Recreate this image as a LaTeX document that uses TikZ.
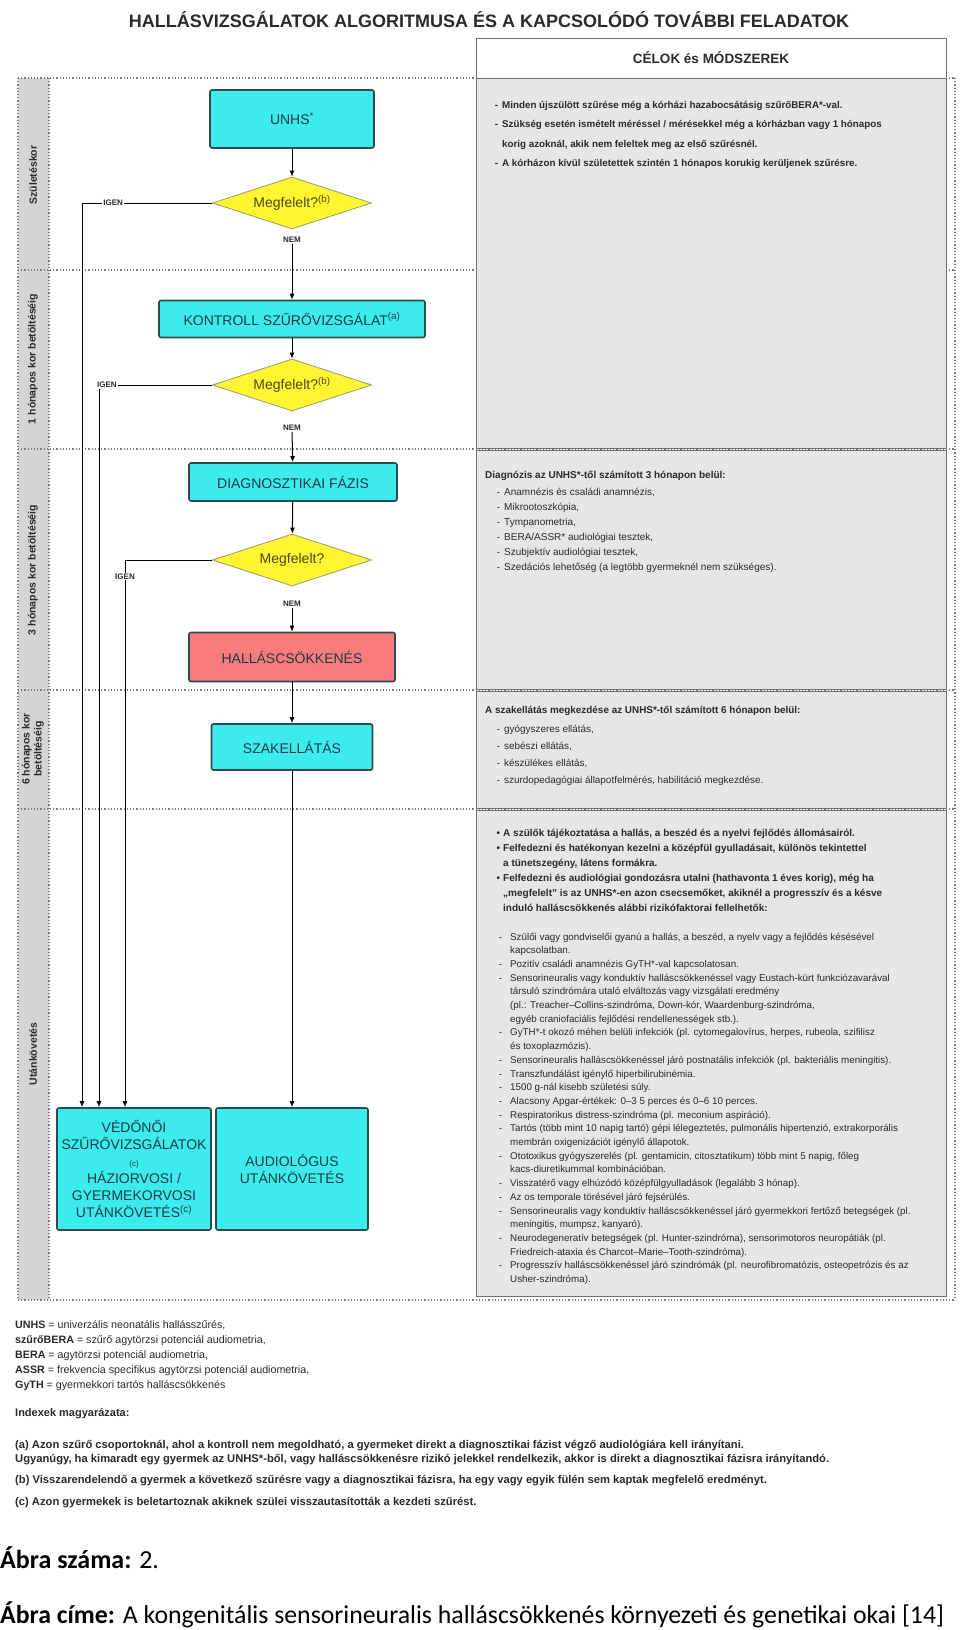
\documentclass[tikz,border=0pt]{standalone}
\usepackage{fontspec}
\setmainfont{Liberation Sans}
\newfontfamily\capfont{Carlito}
\usetikzlibrary{arrows.meta,shapes.geometric}

\definecolor{boxcyan}{HTML}{3CECEC}
\definecolor{boxedge}{HTML}{2F4A4A}
\definecolor{boxtext}{HTML}{1F3A4A}
\definecolor{qyellow}{HTML}{FFF533}
\definecolor{qedge}{HTML}{9A9A70}
\definecolor{qtext}{HTML}{4A4A18}
\definecolor{hcsred}{HTML}{F87C7C}
\definecolor{panelgray}{HTML}{E6E6E6}
\definecolor{panelline}{HTML}{707070}
\definecolor{stripgray}{HTML}{D4D4D4}
\definecolor{dotgray}{HTML}{7A7A7A}
\definecolor{bodytext}{HTML}{2A2A2A}

% hanging list marks
\newcommand{\dsh}[1][4pt]{\llap{-\hspace{#1}}}
\newcommand{\blt}{\llap{\textbullet\hspace{3pt}}}

\tikzset{
  flowbox/.style={draw=boxedge, line width=1.6pt, rounded corners=2pt, fill=boxcyan,
    text=boxtext, align=center, inner sep=0pt, font=\fontsize{14}{17}\selectfont},
  question/.style={diamond, draw=qedge, line width=0.8pt, fill=qyellow, text=qtext,
    inner sep=0pt, aspect=3, minimum width=159, minimum height=52,
    font=\fontsize{14}{17}\selectfont},
  yesno/.style={inner sep=1pt, fill=white, text=bodytext, font=\bfseries\fontsize{8}{9}\selectfont},
  flow/.style={draw=black, line width=1pt, -{Latex[length=6pt,width=5pt]}},
  sectiondots/.style={draw=dotgray, line width=1.2pt, dotted},
  panel/.style={draw=panelline, line width=1pt, fill=panelgray},
  agelabel/.style={rotate=90, align=center, text=bodytext, font=\bfseries\fontsize{10.5}{12}\selectfont},
  % anchored on the baseline of the LAST line
  paneltext/.style={anchor=base west, align=left, inner sep=0pt, text=bodytext},
}

\begin{document}
\begin{tikzpicture}[x=1pt,y=-1pt]
\useasboundingbox (0,0) rectangle (960,1630);
\fill[white] (0,0) rectangle (960,1630);

% Title
\node[font=\bfseries\fontsize{18}{20}\selectfont, text=bodytext] (title) at (489,20)
  {HALLÁSVIZSGÁLATOK ALGORITMUSA ÉS A KAPCSOLÓDÓ TOVÁBBI FELADATOK};

% Age strip and section guide lines
\fill[stripgray] (18,78) rectangle (49,1300);
\foreach \y in {78,270,449,690,809,1300}{
    \draw[sectiondots] (18,\y) -- (955,\y);
}
\draw[sectiondots] (18,78) -- (18,1300);
\draw[sectiondots] (49,78) -- (49,1300);
\draw[sectiondots] (955,78) -- (955,1300);

\node[agelabel] (age0) at (33,175) {Születéskor};
\node[agelabel] (age1) at (33,359) {1 hónapos kor betöltéséig};
\node[agelabel] (age3) at (33,570) {3 hónapos kor betöltéséig};
\node[agelabel] (age6) at (33,749) {6 hónapos kor\\betöltéséig};
\node[agelabel] (agefu) at (33,1054) {Utánkövetés};

% Right column panels
\draw[line width=1pt, draw=panelline, fill=white] (476,38) rectangle (946,78);
\node[font=\bfseries\fontsize{13.5}{15}\selectfont, text=bodytext] (head) at (711,58) {CÉLOK és MÓDSZEREK};
\draw[panel] (476,78) rectangle (946,448);
\draw[panel] (476,450) rectangle (946,689);
\draw[panel] (476,691) rectangle (946,808);
\draw[panel] (476,810) rectangle (946,1296);

\node[paneltext, font=\bfseries\fontsize{9.8}{19.5}\selectfont] (goals1) at (502,166.5)
  {\dsh Minden újszülött szűrése még a kórházi hazabocsátásig szűrőBERA*-val.\\
   \dsh Szükség esetén ismételt méréssel / mérésekkel még a kórházban vagy 1 hónapos\\
   korig azoknál, akik nem feleltek meg az első szűrésnél.\\
   \dsh A kórházon kívül születettek szintén 1 hónapos korukig kerüljenek szűrésre.};

\node[paneltext, font=\fontsize{10}{15}\selectfont] (goals3) at (485,570)
  {\textbf{Diagnózis az UNHS*-től számított 3 hónapon belül:}\\[2pt]
   \hspace*{19pt}\dsh Anamnézis és családi anamnézis,\\
   \hspace*{19pt}\dsh Mikrootoszkópia,\\
   \hspace*{19pt}\dsh Tympanometria,\\
   \hspace*{19pt}\dsh BERA/ASSR* audiológiai tesztek,\\
   \hspace*{19pt}\dsh Szubjektív audiológiai tesztek,\\
   \hspace*{19pt}\dsh Szedációs lehetőség (a legtöbb gyermeknél nem szükséges).};

\node[paneltext, font=\fontsize{9.9}{17}\selectfont] (goals6) at (485,783)
  {\textbf{A szakellátás megkezdése az UNHS*-től számított 6 hónapon belül:}\\[2pt]
   \hspace*{19pt}\dsh gyógyszeres ellátás,\\
   \hspace*{19pt}\dsh sebészi ellátás,\\
   \hspace*{19pt}\dsh készülékes ellátás,\\
   \hspace*{19pt}\dsh szurdopedagógiai állapotfelmérés, habilitáció megkezdése.};

\node[paneltext, font=\bfseries\fontsize{10}{15}\selectfont] (follow) at (503,911)
  {\blt A szülők tájékoztatása a hallás, a beszéd és a nyelvi fejlődés állomásairól.\\
   \blt Felfedezni és hatékonyan kezelni a középfül gyulladásait, különös tekintettel\\
   a tünetszegény, látens formákra.\\
   \blt Felfedezni és audiológiai gondozásra utalni (hathavonta 1 éves korig), még ha\\
   „megfelelt” is az UNHS*-en azon csecsemőket, akiknél a progresszív és a késve\\
   induló halláscsökkenés alábbi rizikófaktorai fellelhetők:};

\node[paneltext, font=\fontsize{9.8}{13.7}\selectfont] (risks) at (510,1282.5)
  {\dsh[8pt]Szülői vagy gondviselői gyanú a hallás, a beszéd, a nyelv vagy a fejlődés késésével\\
   kapcsolatban.\\
   \dsh[8pt]Pozitív családi anamnézis GyTH*-val kapcsolatosan.\\
   \dsh[8pt]Sensorineuralis vagy konduktív halláscsökkenéssel vagy Eustach-kürt funkciózavarával\\
   társuló szindrómára utaló elváltozás vagy vizsgálati eredmény\\
   (pl.: Treacher–Collins-szindróma, Down-kór, Waardenburg-szindróma,\\
   egyéb craniofaciális fejlődési rendellenességek stb.).\\
   \dsh[8pt]GyTH*-t okozó méhen belüli infekciók (pl. cytomegalovírus, herpes, rubeola, szifilisz\\
   és toxoplazmózis).\\
   \dsh[8pt]Sensorineuralis halláscsökkenéssel járó postnatális infekciók (pl. bakteriális meningitis).\\
   \dsh[8pt]Transzfundálást igénylő hiperbilirubinémia.\\
   \dsh[8pt]1500 g-nál kisebb születési súly.\\
   \dsh[8pt]Alacsony Apgar-értékek: 0–3 5 perces és 0–6 10 perces.\\
   \dsh[8pt]Respiratorikus distress-szindróma (pl. meconium aspiráció).\\
   \dsh[8pt]Tartós (több mint 10 napig tartó) gépi lélegeztetés, pulmonális hipertenzió, extrakorporális\\
   membrán oxigenizációt igénylő állapotok.\\
   \dsh[8pt]Ototoxikus gyógyszerelés (pl. gentamicin, citosztatikum) több mint 5 napig, főleg\\
   kacs-diuretikummal kombinációban.\\
   \dsh[8pt]Visszatérő vagy elhúzódó középfülgyulladások (legalább 3 hónap).\\
   \dsh[8pt]Az os temporale törésével járó fejsérülés.\\
   \dsh[8pt]Sensorineuralis vagy konduktív halláscsökkenéssel járó gyermekkori fertőző betegségek (pl.\\
   meningitis, mumpsz, kanyaró).\\
   \dsh[8pt]Neurodegeneratív betegségek (pl. Hunter-szindróma), sensorimotoros neuropátiák (pl.\\
   Friedreich-ataxia és Charcot–Marie–Tooth-szindróma).\\
   \dsh[8pt]Progresszív halláscsökkenéssel járó szindrómák (pl. neurofibromatózis, osteopetrózis és az\\
   Usher-szindróma).};

% Flowchart
\node[flowbox, minimum width=164, minimum height=58] (unhs) at (292,119) {UNHS\textsuperscript{*}};
\node[question] (q1) at (292,203) {Megfelelt?\textsuperscript{(b)}};
\node[yesno] (nem1) at (292,240) {NEM};
\node[flowbox, minimum width=266, minimum height=37] (kontroll) at (292,319)
  {KONTROLL SZŰRŐVIZSGÁLAT\textsuperscript{(a)}};
\node[question] (q2) at (292,385) {Megfelelt?\textsuperscript{(b)}};
\node[yesno] (nem2) at (292,428) {NEM};
\node[flowbox, minimum width=208, minimum height=38] (diag) at (293,482) {DIAGNOSZTIKAI FÁZIS};
\node[question] (q3) at (292,560) {Megfelelt?};
\node[yesno] (nem3) at (292,604) {NEM};
\node[flowbox, fill=hcsred, minimum width=206, minimum height=49] (hcs) at (292,657) {HALLÁSCSÖKKENÉS};
\node[flowbox, minimum width=161, minimum height=46] (szak) at (292,747) {SZAKELLÁTÁS};
\node[flowbox, minimum width=154, minimum height=122] (vedo) at (134,1169)
  {VÉDŐNŐI\\SZŰRŐVIZSGÁLATOK\\{\fontsize{8}{10}\selectfont (c)}\\HÁZIORVOSI /\\GYERMEKORVOSI\\UTÁNKÖVETÉS\textsuperscript{(c)}};
\node[flowbox, minimum width=152, minimum height=122] (audio) at (292,1169) {AUDIOLÓGUS\\UTÁNKÖVETÉS};

\draw[flow] (unhs) -- (q1);
\draw[flow] (nem1) -- (kontroll);
\draw[flow] (kontroll) -- (q2);
\draw[flow] (nem2) -- (diag);
\draw[flow] (diag) -- (q3);
\draw[flow] (nem3) -- (hcs);
\draw[flow] (hcs) -- (szak);
\draw[flow] (szak) -- (audio);

% IGEN branches
\coordinate (c1) at (82,203);
\coordinate (c2) at (99,385);
\coordinate (c3) at (125,560);
\draw[flow] (q1.west) -- node[yesno, pos=0.76] (igen1) {IGEN} (c1) -- (c1 |- vedo.north);
\draw[flow] (q2.west) -- node[yesno, pos=0.93] (igen2) {IGEN} (c2) -- (c2 |- vedo.north);
\draw[flow] (q3.west) -- (c3) -- node[yesno, pos=0.03] (igen3) {IGEN} (c3 |- vedo.north);

% Legend
\node[paneltext, font=\fontsize{10.7}{14.8}\selectfont] (abbr) at (15,1388)
  {\textbf{UNHS} = univerzális neonatális hallásszűrés,\\
   \textbf{szűrőBERA} = szűrő agytörzsi potenciál audiometria,\\
   \textbf{BERA} = agytörzsi potenciál audiometria,\\
   \textbf{ASSR} = frekvencia specifikus agytörzsi potenciál audiometria,\\
   \textbf{GyTH} = gyermekkori tartós halláscsökkenés};
\node[paneltext, font=\bfseries\fontsize{11}{12}\selectfont] (idxhead) at (15,1416) {Indexek magyarázata:};
\node[paneltext, font=\bfseries\fontsize{11.2}{14}\selectfont] (idxa) at (15,1462)
  {(a) Azon szűrő csoportoknál, ahol a kontroll nem megoldható, a gyermeket direkt a diagnosztikai fázist végző audiológiára kell irányítani.\\
   Ugyanúgy, ha kimaradt egy gyermek az UNHS*-ből, vagy halláscsökkenésre rizikó jelekkel rendelkezik, akkor is direkt a diagnosztikai fázisra irányítandó.};
\node[paneltext, font=\bfseries\fontsize{11.2}{12}\selectfont] (idxb) at (15,1483)
  {(b) Visszarendelendő a gyermek a következő szűrésre vagy a diagnosztikai fázisra, ha egy vagy egyik fülén sem kaptak megfelelő eredményt.};
\node[paneltext, font=\bfseries\fontsize{11.2}{12}\selectfont] (idxc) at (15,1505)
  {(c) Azon gyermekek is beletartoznak akiknek szülei visszautasították a kezdeti szűrést.};

% Caption
\node[anchor=base west, inner sep=0pt, font=\capfont\fontsize{26}{30}\selectfont] (fignum) at (0,1568)
  {\textbf{Ábra száma:} 2.};
\node[anchor=base west, inner sep=0pt, font=\capfont\fontsize{25.8}{30}\selectfont] (figtitle) at (0,1623)
  {\textbf{Ábra címe:} A kongenitális sensorineuralis halláscsökkenés környezeti és genetikai okai [14]};

\end{tikzpicture}
\end{document}
